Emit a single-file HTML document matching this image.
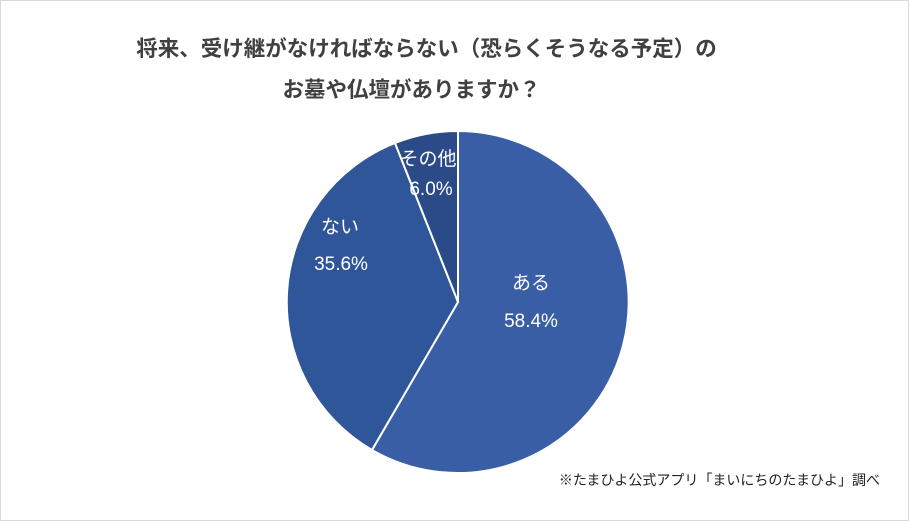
<!DOCTYPE html>
<html><head><meta charset="utf-8"><style>
html,body{margin:0;padding:0;background:#fff;}
.wrap{position:relative;width:909px;height:521px;overflow:hidden;font-family:"Liberation Sans","Noto Sans CJK JP",sans-serif;}
.t{position:absolute;width:909px;text-align:center;font-weight:bold;font-size:21.5px;color:#404040;white-space:nowrap;}
</style></head><body><div class="wrap">
<div class="t" style="top:32px;left:-28px;">将来、受け継がなければならない（恐らくそうなる予定）の</div>
<div class="t" style="top:73px;left:-43px;">お墓や仏壇がありますか？</div>
<svg width="909" height="521" style="position:absolute;left:0;top:0">
<path d="M458,302 L458,131 A171,171 0 1,1 372,450 Z" fill="#3a5ea6" stroke="#fff" stroke-width="2"/>
<path d="M458,302 L372,450 A171,171 0 0,1 395,143 Z" fill="#30569a" stroke="#fff" stroke-width="2"/>
<path d="M458,302 L395,143 A171,171 0 0,1 458,131 Z" fill="#2a4a88" stroke="#fff" stroke-width="2"/>
<g fill="#fff" font-family="Liberation Sans,Noto Sans CJK JP,sans-serif" font-size="19" text-anchor="middle">
<text x="531" y="289">ある</text><text x="531" y="327">58.4%</text>
<text x="340" y="233">ない</text><text x="341" y="270">35.6%</text>
<text x="428" y="165">その他</text><text x="431" y="195">6.0%</text>
</g>
<text x="880" y="485" text-anchor="end" font-size="14" fill="#222" font-family="Liberation Sans,Noto Sans CJK JP,sans-serif">※たまひよ公式アプリ「まいにちのたまひよ」調べ</text>
<rect x="0.5" y="0.5" width="908" height="520" fill="none" stroke="#d9d9d9"/>
</svg>
</div></body></html>
